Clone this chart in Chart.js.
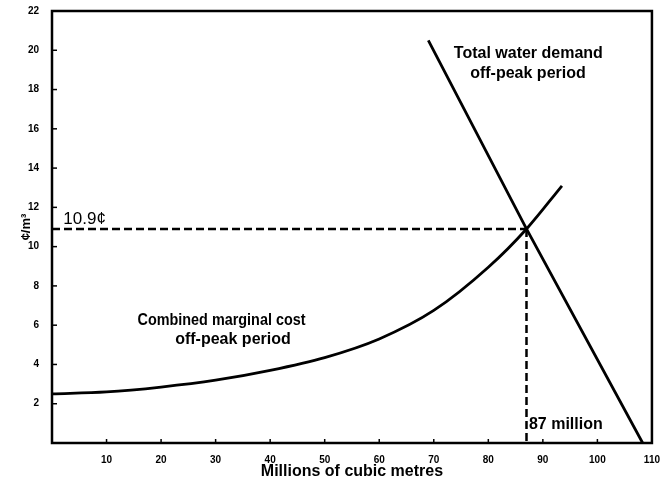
<!DOCTYPE html>
<html>
<head>
<meta charset="utf-8">
<script src="https://cdn.jsdelivr.net/npm/chart.js@4"></script>
<style>
  html, body { margin: 0; padding: 0; background: #fff; }
  #wrap { width: 663px; height: 483px; }
</style>
</head>
<body>
<div id="wrap"><canvas id="waterChart"></canvas></div>
<script>
// --- Data ---
const costQty = [0, 10, 20, 30, 40, 50, 60, 70, 80, 87, 93.5];
const costPrice = [2.5, 2.6, 2.85, 3.2, 3.7, 4.35, 5.3, 6.75, 8.95, 10.9, 13.1];

const demandQty = [69, 87, 108.3];
const demandPrice = [20.5, 10.9, 0];

const eqQty = 87;
const eqPrice = 10.9;

const xTicks = [10, 20, 30, 40, 50, 60, 70, 80, 90, 100, 110];
const yTicks = [2, 4, 6, 8, 10, 12, 14, 16, 18, 20, 22];

// text placed in data units (baseline)
const notes = [
    { text: 'Total water demand', x: 87.34, y: 19.63, align: 'center', size: 16 },
    { text: 'off-peak period', x: 87.27, y: 18.58, align: 'center', size: 16 },
    { text: 'Combined marginal cost', x: 31.08, y: 6.0, align: 'center', size: 16, maxWidth: 168 },
    { text: 'off-peak period', x: 33.18, y: 5.02, align: 'center', size: 16 },
    { text: '10.9¢', x: 2.07, y: 11.13, align: 'left', size: 17, weight: 'normal' },
    { text: '87 million', x: 87.45, y: 0.7, align: 'left', size: 16 }
];

const toPoints = (xs, ys) => xs.map((x, i) => ({ x: x, y: ys[i] }));

// frame, inner tick marks and the text notes
const framePlugin = {
    id: 'frame',
    afterDraw(chart) {
        const { ctx, chartArea: a, scales } = chart;
        ctx.save();
        ctx.strokeStyle = '#000';
        ctx.lineWidth = 1.5;
        xTicks.forEach(v => {
            const px = scales.x.getPixelForValue(v);
            ctx.beginPath();
            ctx.moveTo(px, a.bottom);
            ctx.lineTo(px, a.bottom - 4);
            ctx.stroke();
        });
        yTicks.forEach(v => {
            const py = scales.y.getPixelForValue(v);
            ctx.beginPath();
            ctx.moveTo(a.left, py);
            ctx.lineTo(a.left + 5, py);
            ctx.stroke();
        });
        ctx.lineWidth = 2.5;
        ctx.strokeRect(a.left, a.top, a.right - a.left, a.bottom - a.top);

        ctx.fillStyle = '#000';
        ctx.textBaseline = 'alphabetic';
        notes.forEach(n => {
            ctx.font = (n.weight || 'bold') + ' ' + n.size + 'px "Liberation Sans", Arial, sans-serif';
            ctx.textAlign = n.align;
            const px = scales.x.getPixelForValue(n.x);
            const py = scales.y.getPixelForValue(n.y);
            if (n.maxWidth) ctx.fillText(n.text, px, py, n.maxWidth);
            else ctx.fillText(n.text, px, py);
        });
        ctx.restore();
    }
};

const tickFont = { family: '"Liberation Sans", Arial, sans-serif', size: 10, weight: 'bold' };

new Chart(document.getElementById('waterChart'), {
    type: 'line',
    data: {
        datasets: [
            {
                label: 'Combined marginal cost',
                data: toPoints(costQty, costPrice),
                borderColor: '#000',
                borderWidth: 2.8,
                pointRadius: 0,
                cubicInterpolationMode: 'monotone'
            },
            {
                label: 'Total water demand',
                data: toPoints(demandQty, demandPrice),
                borderColor: '#000',
                borderWidth: 2.8,
                pointRadius: 0,
                tension: 0
            },
            {
                label: 'price',
                data: [{ x: 0, y: eqPrice }, { x: eqQty, y: eqPrice }],
                borderColor: '#000',
                borderWidth: 2.5,
                borderDash: [8, 4],
                pointRadius: 0
            },
            {
                label: 'quantity',
                data: [{ x: eqQty, y: eqPrice }, { x: eqQty, y: 0 }],
                borderColor: '#000',
                borderWidth: 2.5,
                borderDash: [8, 4],
                pointRadius: 0
            }
        ]
    },
    options: {
        responsive: true,
        maintainAspectRatio: false,
        animation: false,
        layout: { padding: { top: 10, right: 11, left: 0, bottom: 0 } },
        plugins: {
            legend: { display: false },
            tooltip: { enabled: false }
        },
        scales: {
            x: {
                type: 'linear',
                min: 0,
                max: 110,
                afterFit: s => { s.height = 40; },
                afterBuildTicks: s => { s.ticks = xTicks.map(v => ({ value: v })); },
                grid: { display: false },
                border: { display: false },
                ticks: { color: '#000', font: tickFont, padding: 3, maxRotation: 0 },
                title: {
                    display: true,
                    text: 'Millions of cubic metres',
                    color: '#000',
                    font: { family: '"Liberation Sans", Arial, sans-serif', size: 16, weight: 'bold', lineHeight: 1 },
                    padding: { top: 0, bottom: 3 }
                }
            },
            y: {
                min: 0,
                max: 22,
                afterFit: s => { s.width = 52; },
                afterBuildTicks: s => { s.ticks = yTicks.map(v => ({ value: v })); },
                grid: { display: false },
                border: { display: false },
                ticks: { color: '#000', font: tickFont, padding: 5 },
                title: {
                    display: true,
                    text: '¢/m³',
                    color: '#000',
                    font: { family: '"Liberation Sans", Arial, sans-serif', size: 13, weight: 'bold' },
                    padding: { top: 19, bottom: 0 }
                }
            }
        }
    },
    plugins: [framePlugin]
});
</script>
</body>
</html>
